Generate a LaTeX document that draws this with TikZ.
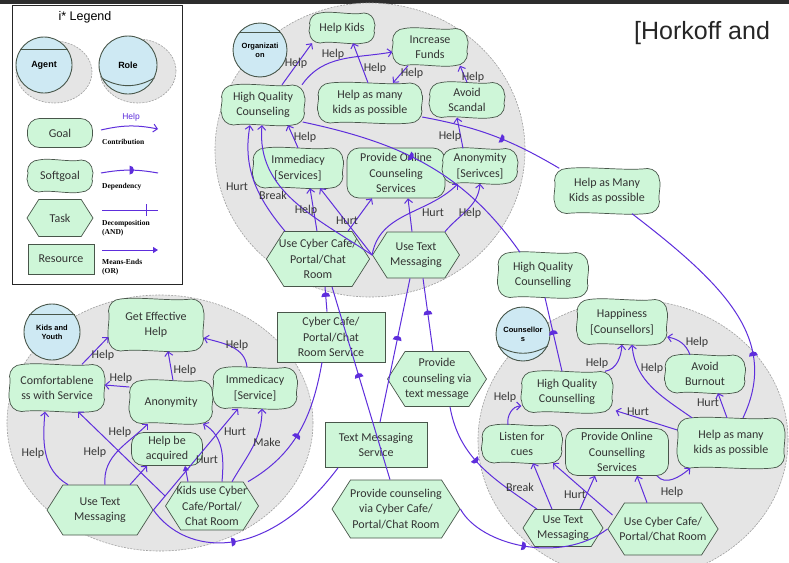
\documentclass[tikz,border=0pt]{standalone}
\usepackage{fontspec}
\setmainfont{Carlito}
\newfontfamily\headfont{Liberation Sans}
\newfontfamily\notefont{Liberation Serif}
\usetikzlibrary{arrows.meta,shapes.symbols,decorations.markings}

\definecolor{elemgreen}{RGB}{206,246,216}
\definecolor{elemedge}{RGB}{72,86,74}
\definecolor{actorblue}{RGB}{206,233,243}
\definecolor{bdryfill}{RGB}{229,229,229}
\definecolor{bdryedge}{RGB}{160,160,160}
\definecolor{linkviolet}{RGB}{94,46,220}
\definecolor{labelgray}{RGB}{55,55,55}
\definecolor{topbar}{RGB}{45,45,45}

\tikzset{
  elem/.style={draw=elemedge, fill=elemgreen, line width=0.7pt, align=center,
    inner sep=1pt, text=black!80, font=\fontsize{12}{15.5}\selectfont},
  goal/.style={elem, rectangle, rounded corners=12pt},
  sgbody/.style={draw=elemedge, fill=elemgreen, line width=0.7pt},
  sgtext/.style={rectangle, align=center, inner sep=1pt, text=black!80, font=\fontsize{12}{15.5}\selectfont},
  task/.style={elem, signal, signal to=east and west, signal pointer angle=115, inner xsep=-5pt},
  resource/.style={elem, rectangle},
  sz/.style 2 args={minimum width=#1pt, minimum height=#2pt},
  actor/.style={circle, draw=elemedge, fill=actorblue, line width=0.9pt, align=center,
    inner sep=0pt, font=\headfont\bfseries\fontsize{7.5}{9}\selectfont},
  actline/.style={draw=elemedge, line width=0.9pt},
  bdry/.style={fill=bdryfill, draw=bdryedge, line width=0.6pt, dash pattern=on 2pt off 1.2pt},
  link/.style={draw=linkviolet, line width=1pt},
  contrib/.style={link, -{Straight Barb[length=4pt, width=8pt, line width=1pt]}},
  meansend/.style={link, -{Triangle[length=5pt, width=6pt]}},
  dep/.style={link, postaction={decorate, decoration={markings,
    mark=at position #1 with {\fill[linkviolet] (0pt,-4.5pt) arc[start angle=-90, end angle=90, radius=4.5pt] -- cycle;}}}},
  dep/.default=0.5,
  lbl/.style={font=\fontsize{12}{14}\selectfont, text=labelgray, inner sep=0pt},
  note/.style={font=\notefont\bfseries\fontsize{7.5}{9}\selectfont, anchor=west, inner sep=0pt, align=left},
}

% softgoal: wavy rounded box, then a named text node on top
% #1 name, #2 centre, #3 width, #4 height, #5 text
\newcommand{\sgnode}[5]{%
  \begin{scope}[shift={#2}]
    \pgfmathsetmacro{\sga}{#3/2}
    \pgfmathsetmacro{\sgb}{#4/2}
    \pgfmathsetmacro{\sgr}{min(0.7*\sgb,12)}
    \pgfmathsetmacro{\sgk}{0.45*\sgr}
    \path[sgbody]
      (-\sga+\sgr,\sgb) .. controls (-\sga/3,\sgb+2.6) and (\sga/3,\sgb-2.6) .. (\sga-\sgr,\sgb)
      .. controls (\sga-\sgk,\sgb) and (\sga,\sgb-\sgk) .. (\sga,\sgb-\sgr)
      .. controls (\sga+2,\sgb/3) and (\sga-2,-\sgb/3) .. (\sga,-\sgb+\sgr)
      .. controls (\sga,-\sgb+\sgk) and (\sga-\sgk,-\sgb) .. (\sga-\sgr,-\sgb)
      .. controls (\sga/3,-\sgb-2.6) and (-\sga/3,-\sgb+2.6) .. (-\sga+\sgr,-\sgb)
      .. controls (-\sga+\sgk,-\sgb) and (-\sga,-\sgb+\sgk) .. (-\sga,-\sgb+\sgr)
      .. controls (-\sga-2,-\sgb/3) and (-\sga+2,\sgb/3) .. (-\sga,\sgb-\sgr)
      .. controls (-\sga,\sgb-\sgk) and (-\sga+\sgk,\sgb) .. (-\sga+\sgr,\sgb) -- cycle;
  \end{scope}
  \node[sgtext, sz={#3}{#4}] (#1) at #2 {#5};
}

\begin{document}
\begin{tikzpicture}[x=1pt, y=1pt]
  \useasboundingbox (0,0) rectangle (789,-562);
  \clip (0,0) rectangle (789,-562);
  \fill[white] (0,0) rectangle (789,-562);
  \fill[topbar] (0,0) rectangle (789,-4);

  %% =========================================================
  %% ACTOR BOUNDARIES
  %% =========================================================
  \path[bdry] (370,-150) ellipse [x radius=155, y radius=147];
  \path[bdry] (160,-423) ellipse [x radius=153, y radius=128];
  \path[bdry] (633,-440) ellipse [x radius=155, y radius=140];

  \node[anchor=west, inner sep=0pt, text=black!85,
    font=\headfont\fontsize{25}{28}\selectfont] (cite) at (634,-33) {[Horkoff and};

  %% =========================================================
  %% LEGEND
  %% =========================================================
  \draw[black!85, line width=1pt] (12,-5) rectangle (182,-284);
  \node[font=\headfont\fontsize{12.5}{14}\selectfont] (legtitle) at (85,-17) {i* Legend};

  \path[bdry] (54,-72) ellipse [x radius=38, y radius=31];
  \path[bdry] (138,-71) ellipse [x radius=38, y radius=32];
  \node[actor, minimum size=56pt, font=\headfont\bfseries\fontsize{9}{10}\selectfont] (legagent) at (44,-65) {Agent};
  \draw[actline] (legagent.148) -- (legagent.32);
  \node[actor, minimum size=58pt, font=\headfont\bfseries\fontsize{9}{10}\selectfont] (legrole) at (128,-65) {Role};
  \draw[actline] (legrole.206) to[bend right=30] (legrole.334);

  \node[goal, sz={65}{29}] (leggoal) at (60,-133) {Goal};
  \sgnode{legsoft}{(60,-176)}{65}{32}{Softgoal}
  \node[task, sz={66}{37}] (legtask) at (60,-218) {Task};
  \node[resource, sz={66}{30}] (legres) at (61,-259) {Resource};

  \coordinate (lc1) at (101,-130);
  \coordinate (lc2) at (158,-129);
  \draw[contrib] (lc1) to[bend left=12] (lc2);
  \node[lbl, text=linkviolet, font=\headfont\fontsize{8.5}{10}\selectfont] (lchelp) at (131,-117) {Help};
  \node[note] (lcnote) at (102,-142) {Contribution};

  \coordinate (ld1) at (101,-173);
  \coordinate (ld2) at (158,-173);
  \draw[dep=0.5] (ld1) to[bend left=10] (ld2);
  \node[note] (ldnote) at (102,-187) {Dependency};

  \coordinate (lt1) at (102,-210);
  \coordinate (lt2) at (158,-210);
  \draw[link] (lt1) -- (lt2);
  \draw[link] (146,-204) -- (146,-216);
  \node[note] (ltnote) at (102,-228.5) {Decomposition\\(AND)};

  \coordinate (lm1) at (102,-250);
  \coordinate (lm2) at (158,-250);
  \draw[meansend] (lm1) -- (lm2);
  \node[note] (lmnote) at (102,-267.5) {Means-Ends\\(OR)};

  %% =========================================================
  %% ORGANIZATION
  %% =========================================================
  \node[actor, minimum size=54pt] (org) at (260,-50) {Organizati\\on};
  \draw[actline] (org.141) -- (org.39);

  \sgnode{hkids}{(342,-28)}{65}{30}{Help Kids}
  \sgnode{incf}{(430,-47)}{75}{37}{Increase\\Funds}
  \sgnode{hqcT}{(263,-105)}{83}{40}{High Quality\\Counseling}
  \sgnode{hmkT}{(370,-103)}{104}{40}{Help as many\\kids as possible}
  \sgnode{avsc}{(467,-100)}{75}{35}{Avoid\\Scandal}
  \sgnode{immT}{(298,-168)}{90}{40}{Immediacy\\{}[Services]}
  \node[goal, sz={98}{50}, inner sep=0pt] (pocT) at (396,-173) {Provide Online\\Counseling\\Services};
  \sgnode{anoT}{(480,-166)}{75}{35}{Anonymity\\{}[Serivces]}
  \node[task, sz={100}{55}] (uccT) at (318,-259) {Use Cyber Cafe/\\Portal/Chat\\Room};
  \node[task, sz={87}{46}] (utmT) at (416,-255) {Use Text\\Messaging};

  %% =========================================================
  %% DEPENDUMS
  %% =========================================================
  \sgnode{hmkX}{(607,-191)}{105}{45}{Help as Many\\Kids as possible}
  \sgnode{hqcX}{(543,-275)}{90}{45}{High Quality\\Counselling}
  \node[resource, sz={108}{50}, inner sep=0pt] (ccsR) at (331,-337) {Cyber Cafe/\\Portal/Chat\\Room Service};
  \node[task, sz={99}{55}] (pctm) at (437,-379) {Provide\\counseling via\\text message};
  \node[resource, sz={102}{45}] (tmsR) at (376,-445) {Text Messaging\\Service};
  \node[task, sz={128}{58}] (pccc) at (396,-509) {Provide counseling\\via Cyber Cafe/\\Portal/Chat Room};

  %% =========================================================
  %% KIDS AND YOUTH
  %% =========================================================
  \node[actor, minimum size=56pt] (kids) at (52,-332) {Kids and\\Youth};
  \draw[actline] (kids.143) -- (kids.37);

  \sgnode{gefh}{(156,-325)}{95}{52}{Get Effective\\Help}
  \sgnode{comf}{(57,-388)}{95}{47}{Comfortablene\\ss with Service}
  \sgnode{anoB}{(171,-402)}{83}{43}{Anonymity}
  \sgnode{immB}{(255,-388)}{84}{41}{Immedicacy\\{}[Service]}
  \node[goal, sz={71}{33}] (hbaq) at (167,-449) {Help be\\acquired};
  \node[task, sz={106}{50}] (utmB) at (100,-510) {Use Text\\Messaging};
  \node[task, sz={93}{48}] (kucc) at (212,-506) {Kids use Cyber\\Cafe/Portal/\\Chat Room};

  %% =========================================================
  %% COUNSELLORS
  %% =========================================================
  \node[actor, minimum size=54pt] (cou) at (523,-334) {Counsellor\\s};
  \draw[actline] (cou.206) to[bend right=30] (cou.334);

  \sgnode{happ}{(622,-322)}{90}{45}{Happiness\\{}[Counsellors]}
  \sgnode{avbo}{(705,-374)}{80}{38}{Avoid\\Burnout}
  \sgnode{hqcR}{(567,-392)}{91}{41}{High Quality\\Counselling}
  \sgnode{lfc}{(522,-444)}{80}{38}{Listen for\\cues}
  \node[goal, sz={103}{47}, inner sep=0pt] (pocR) at (617,-452) {Provide Online\\Counselling\\Services};
  \sgnode{hmkR}{(731,-443)}{107}{50}{Help as many\\kids as possible}
  \node[task, sz={80}{37}] (utmR) at (563,-528) {Use Text\\Messaging};
  \node[task, sz={110}{52}] (uccR) at (663,-529) {Use Cyber Cafe/\\Portal/Chat Room};

  %% =========================================================
  %% LINKS: ORGANIZATION
  %% =========================================================
  \draw[contrib] ([xshift=19pt]hqcT.north) -- ([xshift=-30pt]hkids.south);
  \draw[contrib] ([xshift=39pt]hqcT.north) to[out=55,in=190] ([yshift=-5pt]incf.west);
  \draw[contrib] ([xshift=-2pt]hmkT.north) -- ([xshift=11pt]hkids.south);
  \draw[contrib] ([xshift=-22pt]incf.south) -- ([xshift=23pt]hmkT.north);
  \draw[contrib] (avsc.north) -- ([xshift=30pt]incf.south);
  \draw[contrib] ([xshift=-17pt]anoT.north) -- ([xshift=-10pt]avsc.south);
  \draw[contrib] (immT.north) -- ([xshift=25pt]hqcT.south);
  \draw[contrib] ([xshift=-33pt]uccT.north) to[out=130,in=-100] ([xshift=-13pt]hqcT.south);
  \draw[contrib] (utmT.west) to[out=146,in=-95] ([xshift=-1pt]hqcT.south);
  \draw[contrib] ([xshift=-1pt]uccT.north) -- ([xshift=12pt]immT.south);
  \draw[contrib] (utmT.west) -- ([xshift=22pt]immT.south);
  \draw[contrib] ([xshift=30pt]uccT.north) -- ([xshift=-24pt]pocT.south);
  \draw[contrib] ([xshift=-4pt]utmT.north) -- ([xshift=12pt]pocT.south);
  \draw[contrib] ([xshift=29pt]utmT.north) to[out=50,in=-95] (anoT.south);
  \draw[contrib] (utmT.west) to[out=80,in=-135] ([xshift=-22pt]anoT.south);

  \node[lbl] (lb1) at (296,-63) {Help};
  \node[lbl] (lb2) at (333,-54) {Help};
  \node[lbl] (lb3) at (375,-68) {Help};
  \node[lbl] (lb4) at (412,-73) {Help};
  \node[lbl] (lb5) at (473,-77) {Help};
  \node[lbl] (lb6) at (305,-137) {Help};
  \node[lbl] (lb7) at (450,-136) {Help};
  \node[lbl] (lb8) at (237,-187) {Hurt};
  \node[lbl] (lb9) at (273,-195) {Break};
  \node[lbl] (lb10) at (306,-210) {Help};
  \node[lbl] (lb11) at (347,-221) {Hurt};
  \node[lbl] (lb12) at (433,-213) {Hurt};
  \node[lbl] (lb13) at (470,-213) {Help};

  %% =========================================================
  %% LINKS: DEPENDENCIES
  %% =========================================================
  \draw[dep=0.55] ([yshift=-14pt]hmkT.east) to[bend left=10] ([xshift=5pt]hmkX.north west);
  \draw[dep=0.43] ([shift={(-2,-17)}]hqcT.east) to[out=-12,in=125] ([xshift=-23pt]hqcX.north);
  \draw[dep=0.6] ([xshift=-4pt]ccsR.north) -- ([xshift=7pt]uccT.south);
  \draw[dep=0.53] ([xshift=-6pt]pccc.north) -- ([xshift=14pt]uccT.south);
  \draw[dep=0.57] ([xshift=4pt]tmsR.north) -- ([xshift=-6pt]utmT.south);
  \draw[dep=0.5] ([xshift=-4pt]pctm.north) -- ([xshift=7pt]utmT.south);
  \draw[dep=0.45] ([xshift=36pt]kucc.north) to[out=30,in=-100] ([xshift=-9pt]ccsR.south);
  \draw[dep=0.4] (utmB.east) .. controls (185,-555) and (265,-565) .. ([xshift=-38pt]tmsR.south);
  \draw[dep=0.42] ([xshift=13pt]pctm.south) to[out=-80,in=145] ([xshift=-26pt]utmR.north);
  \draw[dep=0.45] (pccc.east) .. controls (480,-545) and (560,-565) .. (uccR.west);
  \draw[dep=0.5] ([xshift=-5pt]hqcR.north) -- ([xshift=2pt]hqcX.south);
  \draw[dep=0.25] ([xshift=12pt]hmkR.north) .. controls (780,-340) and (725,-285) .. ([xshift=25pt]hmkX.south);

  %% =========================================================
  %% LINKS: KIDS AND YOUTH
  %% =========================================================
  \draw[contrib] ([xshift=25pt]comf.north) -- ([yshift=-12pt]gefh.west);
  \draw[contrib] ([yshift=15pt]anoB.west) -- ([yshift=3pt]comf.east);
  \draw[contrib] ([xshift=2pt]anoB.north) -- ([xshift=12pt]gefh.south);
  \draw[contrib] ([xshift=-8pt]immB.north) to[out=95,in=-15] ([yshift=-13pt]gefh.east);
  \draw[contrib] ([xshift=-32pt]utmB.north) to[out=150,in=-95] ([xshift=-12pt]comf.south);
  \draw[contrib] ([xshift=5pt]utmB.north) to[out=95,in=-135] ([xshift=-23pt]anoB.south);
  \draw[contrib] ([xshift=30pt]utmB.north) -- ([xshift=-20pt]hbaq.south);
  \draw[contrib] ([yshift=10pt]kucc.west) -- ([xshift=21pt]comf.south);
  \draw[meansend] ([xshift=-24pt]kucc.north) -- ([xshift=18pt]hbaq.south);
  \draw[contrib] ([xshift=10pt]kucc.north) to[out=85,in=-30] ([xshift=32pt]anoB.south);
  \draw[contrib] (utmB.east) -- ([xshift=-17pt]immB.south);
  \draw[contrib] ([xshift=20pt]kucc.north) to[out=60,in=-90] ([xshift=7pt]immB.south);

  \node[lbl] (lb14) at (103,-355) {Help};
  \node[lbl] (lb15) at (121,-378) {Help};
  \node[lbl] (lb16) at (185,-370) {Help};
  \node[lbl] (lb17) at (237,-345) {Help};
  \node[lbl] (lb18) at (33,-453) {Help};
  \node[lbl] (lb19) at (95,-452) {Help};
  \node[lbl] (lb20) at (120,-432) {Help};
  \node[lbl] (lb21) at (235,-432) {Hurt};
  \node[lbl] (lb22) at (267,-442) {Make};
  \node[lbl] (lb23) at (207,-460) {Hurt};

  %% =========================================================
  %% LINKS: COUNSELLORS
  %% =========================================================
  \draw[contrib] ([xshift=38pt]hqcR.north) to[out=10,in=-95] (happ.south);
  \draw[contrib] ([xshift=-15pt]avbo.north) to[out=110,in=-10] ([yshift=-15pt]happ.east);
  \draw[contrib] ([xshift=-39pt]hmkR.north) to[out=145,in=-85] ([xshift=10pt]happ.south);
  \draw[contrib] ([xshift=-4pt]hmkR.north) -- ([xshift=13pt]avbo.south);
  \draw[contrib] ([yshift=13pt]hmkR.west) -- ([shift={(3,2)}]hqcR.south east);
  \draw[contrib] ([xshift=-14pt]lfc.north) to[out=100,in=180] ([yshift=-14pt]hqcR.west);
  \draw[contrib] ([xshift=40pt]pocR.south) to[out=-50,in=-140] ([xshift=13pt]hmkR.south west);
  \draw[contrib] ([xshift=-11pt]utmR.north) -- ([xshift=11pt]lfc.south);
  \draw[contrib] ([xshift=17pt]utmR.north) -- ([xshift=-22pt]pocR.south);
  \draw[contrib] ([shift={(5,14)}]uccR.west) -- ([xshift=31pt]lfc.south);
  \draw[contrib] ([xshift=-16pt]uccR.north) -- ([xshift=20pt]pocR.south);

  \node[lbl] (lb24) at (597,-363) {Help};
  \node[lbl] (lb25) at (697,-342) {Help};
  \node[lbl] (lb26) at (652,-368) {Help};
  \node[lbl] (lb27) at (708,-403) {Hurt};
  \node[lbl] (lb28) at (638,-412) {Hurt};
  \node[lbl] (lb29) at (505,-397) {Help};
  \node[lbl] (lb30) at (672,-492) {Help};
  \node[lbl] (lb31) at (520,-487) {Break};
  \node[lbl] (lb32) at (575,-495) {Hurt};

\end{tikzpicture}
\end{document}
